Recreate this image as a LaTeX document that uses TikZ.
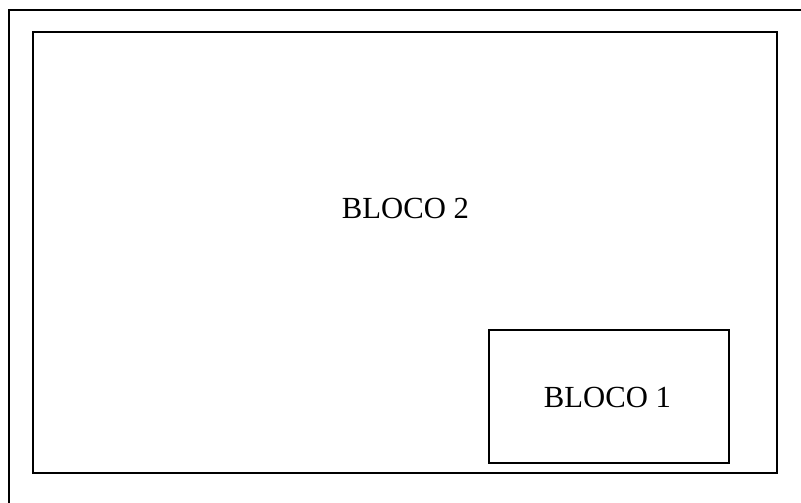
\documentclass[tikz,border=0pt]{standalone}
\usepackage{fontspec}
\setmainfont{Liberation Serif}
\begin{document}
\begin{tikzpicture}[x=1pt,y=-1pt,
  frame/.style={draw=black,line width=2pt},
  lbl/.style={font=\fontsize{30.7}{36}\selectfont,anchor=base,inner sep=0pt}]
\useasboundingbox (0,0) rectangle (801,503);
\clip (0,0) rectangle (801,503);
\draw[frame] (9,10) rectangle (815,515);
\draw[frame] (33,32) rectangle (777,473);
\draw[frame] (489,329.5) rectangle (729,463);
\node[lbl] (b2) at (405.5,218.3) {BLOCO 2};
\node[lbl] (b1) at (607.5,407.3) {BLOCO 1};
\end{tikzpicture}
\end{document}
